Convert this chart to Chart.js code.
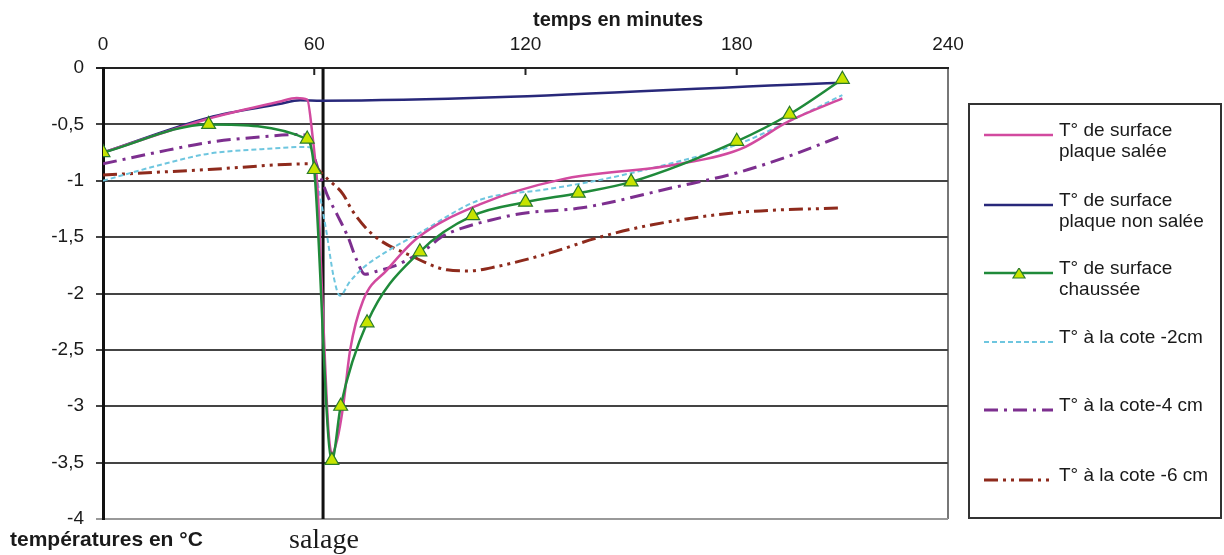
<!DOCTYPE html>
<html>
<head>
<meta charset="utf-8">
<script src="https://cdn.jsdelivr.net/npm/chart.js@4.4.1/dist/chart.umd.min.js"></script>
<style>
  body { margin: 0; background: #fff; }
  #wrap { position: relative; width: 1224px; height: 555px; font-family: "Liberation Sans", Arial, sans-serif; color: #1a1a1a; }
  canvas { position: absolute; left: 0; top: 0; }
  .txt { position: absolute; white-space: nowrap; }
  .bold { font-weight: bold; font-size: 20px; }
  #legend { position: absolute; left: 968px; top: 103px; width: 254px; height: 416px; border: 2px solid #333; box-sizing: border-box; }
  .item { position: absolute; left: 14px; font-size: 19px; line-height: 21px; }
  .item svg { position: absolute; left: 0; top: 1px; }
  .item span { position: absolute; left: 75px; top: -10px; white-space: nowrap; }
</style>
</head>
<body>
<div id="wrap">
  <canvas id="tempChart" width="1224" height="555"></canvas>
  <div class="txt bold" style="left:533px; top:8px;">temps en minutes</div>
  <div class="txt bold" style="left:10px; top:527px; font-size:21px;">températures en °C</div>
  <div class="txt" style="left:289px; top:523px; font-family:'Liberation Serif', 'Times New Roman', serif; font-size:28px;">salage</div>
  <div id="legend"></div>
</div>
<script>
// temps en minutes / températures en °C
const minutesSalee = [0, 30, 50, 55, 58, 59.5, 61, 62.5, 64, 65, 66.5, 68.2, 70.2, 73.9, 80.7, 89.2, 107, 130, 162, 181, 195, 210];
const tSalee = [-0.75, -0.45, -0.3, -0.265, -0.28, -0.6, -1.1, -2.2, -3.2, -3.42, -3.3, -3.0, -2.5, -2.06, -1.79, -1.51, -1.21, -0.99, -0.86, -0.72, -0.47, -0.27];

const minutesNonSalee = [0, 30, 50, 56, 62, 210];
const tNonSalee = [-0.75, -0.44, -0.32, -0.285, -0.29, -0.13];

const minutesChaussee = [0, 30, 58, 60, 65, 67.5, 75, 90, 105, 120, 135, 150, 180, 195, 210];
const tChaussee = [-0.75, -0.5, -0.63, -0.9, -3.48, -3.0, -2.26, -1.63, -1.31, -1.19, -1.11, -1.01, -0.65, -0.41, -0.1];

const minutesCote2 = [0, 15, 30, 45, 58, 59.5, 61, 63.5, 65.5, 67.3, 70, 74, 81.5, 89, 107, 125, 140, 162, 180, 195, 210];
const tCote2 = [-1.0, -0.87, -0.76, -0.72, -0.7, -0.72, -1.02, -1.46, -1.85, -2.02, -1.9, -1.77, -1.61, -1.48, -1.17, -1.08, -1.0, -0.84, -0.68, -0.47, -0.24];

const minutesCote4 = [0, 15, 30, 45, 56, 58, 60.8, 63.6, 66.5, 69.6, 72, 74.4, 78, 82.4, 92, 96, 102, 110, 119, 136, 162, 180, 195, 210];
const tCote4 = [-0.85, -0.75, -0.66, -0.61, -0.59, -0.6, -0.87, -1.12, -1.3, -1.5, -1.7, -1.83, -1.8, -1.76, -1.6, -1.5, -1.42, -1.35, -1.29, -1.24, -1.06, -0.93, -0.78, -0.6];

const minutesCote6 = [0, 30, 58.8, 60, 62, 64, 68.2, 70.7, 76.7, 87.8, 97.7, 104, 112, 127, 140, 156, 181, 210];
const tCote6 = [-0.95, -0.9, -0.85, -0.86, -0.93, -0.99, -1.12, -1.26, -1.48, -1.67, -1.79, -1.8, -1.76, -1.64, -1.51, -1.39, -1.28, -1.24];

const salageMinute = 62.5;
const xTicks = [0, 60, 120, 180, 240];
const yMin = -4, yMax = 0;

const legendItems = [
  { label: ["T° de surface", "plaque salée"], color: "#d24a9f", dash: [], width: 2.5 },
  { label: ["T° de surface", "plaque non salée"], color: "#28287a", dash: [], width: 2.5 },
  { label: ["T° de surface", "chaussée"], color: "#1f8a3a", dash: [], width: 2.5, marker: true },
  { label: ["T° à la cote -2cm"], color: "#6ec6df", dash: [5, 3], width: 2 },
  { label: ["T° à la cote-4 cm"], color: "#7d2f8f", dash: [14, 6, 3, 6], width: 3 },
  { label: ["T° à la cote -6 cm"], color: "#8e2a1c", dash: [14, 5, 3, 5, 3, 5], width: 3 }
];
const legendTops = [24, 94, 162, 231, 299, 369];

const pts = (xs, ys) => xs.map((x, i) => ({ x: x, y: ys[i] }));

const lineSet = (label, xs, ys, item) => ({
  label: label,
  data: pts(xs, ys),
  borderColor: item.color,
  borderWidth: item.width,
  borderDash: item.dash,
  pointRadius: 0,
  fill: false,
  cubicInterpolationMode: 'monotone'
});

// petits traits de graduation vers l'intérieur sur l'axe du haut
const innerTicks = {
  id: 'innerTicks',
  afterDraw(chart) {
    const ctx = chart.ctx, xs = chart.scales.x, top = chart.chartArea.top;
    ctx.save();
    ctx.strokeStyle = '#222';
    ctx.lineWidth = 2;
    xTicks.slice(1, -1).forEach(v => {
      const px = xs.getPixelForValue(v);
      ctx.beginPath();
      ctx.moveTo(px, top);
      ctx.lineTo(px, top + 7);
      ctx.stroke();
    });
    ctx.restore();
  }
};

new Chart("tempChart", {
  type: "line",
  data: {
    datasets: [
      Object.assign(lineSet("T° de surface chaussée", minutesChaussee, tChaussee, legendItems[2]), {
        pointRadius: 8, pointStyle: 'triangle', pointBackgroundColor: '#c6e400',
        pointBorderColor: '#2a7a2a', pointBorderWidth: 1.2
      }),
      lineSet("T° de surface plaque salée", minutesSalee, tSalee, legendItems[0]),
      lineSet("T° de surface plaque non salée", minutesNonSalee, tNonSalee, legendItems[1]),
      lineSet("T° à la cote -2cm", minutesCote2, tCote2, legendItems[3]),
      lineSet("T° à la cote-4 cm", minutesCote4, tCote4, legendItems[4]),
      lineSet("T° à la cote -6 cm", minutesCote6, tCote6, legendItems[5]),
      {
        label: "salage",
        data: [{ x: salageMinute, y: yMax }, { x: salageMinute, y: yMin }],
        borderColor: '#111', borderWidth: 3, pointRadius: 0, tension: 0
      }
    ]
  },
  options: {
    responsive: false,
    animation: false,
    devicePixelRatio: 1,
    layout: { padding: { left: 0, right: 276, top: 0, bottom: 36 } },
    plugins: { legend: { display: false }, tooltip: { enabled: false } },
    scales: {
      x: {
        type: 'linear',
        position: 'top',
        min: 0, max: 240,
        afterFit: s => { s.height = 68; },
        afterBuildTicks: s => { s.ticks = xTicks.map(v => ({ value: v })); },
        ticks: { font: { family: "'Liberation Sans', Arial", size: 19 }, color: '#1a1a1a', padding: 12, maxRotation: 0 },
        grid: {
          drawTicks: false,
          lineWidth: 2,
          color: c => c.tick && c.tick.value === 240 ? '#777' : 'rgba(0,0,0,0)'
        },
        border: { color: '#222', width: 2 }
      },
      y: {
        min: yMin, max: yMax,
        afterFit: s => { s.width = 103; },
        ticks: {
          stepSize: 0.5,
          font: { family: "'Liberation Sans', Arial", size: 19 },
          color: '#1a1a1a',
          padding: 12,
          callback: v => String(v).replace('.', ',')
        },
        grid: {
          tickLength: 7,
          lineWidth: 2,
          color: c => c.tick.value === yMin ? '#999' : (c.tick.value === yMax ? '#222' : '#444')
        },
        border: { color: '#111', width: 3 }
      }
    }
  },
  plugins: [innerTicks]
});

// légende à droite
const legend = document.getElementById('legend');
legendItems.forEach((item, i) => {
  const div = document.createElement('div');
  div.className = 'item';
  div.style.top = legendTops[i] + 'px';
  const svgNS = 'http://www.w3.org/2000/svg';
  const svg = document.createElementNS(svgNS, 'svg');
  svg.setAttribute('width', '70');
  svg.setAttribute('height', '12');
  const line = document.createElementNS(svgNS, 'line');
  line.setAttribute('x1', '0'); line.setAttribute('y1', '5');
  line.setAttribute('x2', '69'); line.setAttribute('y2', '5');
  line.setAttribute('stroke', item.color);
  line.setAttribute('stroke-width', item.width);
  if (item.dash.length) line.setAttribute('stroke-dasharray', item.dash.join(' '));
  svg.appendChild(line);
  if (item.marker) {
    const tri = document.createElementNS(svgNS, 'polygon');
    tri.setAttribute('points', '35,0 41,10 29,10');
    tri.setAttribute('fill', '#c6e400');
    tri.setAttribute('stroke', '#2a7a2a');
    tri.setAttribute('stroke-width', '1.2');
    svg.appendChild(tri);
  }
  div.appendChild(svg);
  const span = document.createElement('span');
  span.innerHTML = item.label.join('<br>');
  div.appendChild(span);
  legend.appendChild(div);
});
</script>
</body>
</html>
